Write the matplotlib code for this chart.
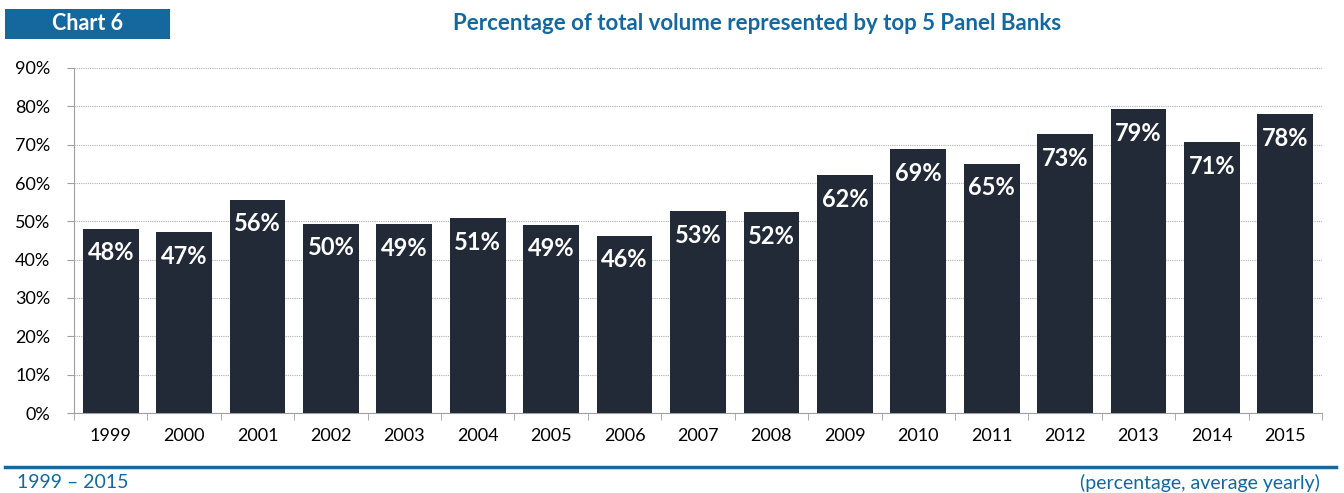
import numpy as np
import matplotlib as mpl
mpl.use('Agg')
import matplotlib.pyplot as plt
from matplotlib.patches import Rectangle
from matplotlib.lines import Line2D

plt.rcParams['font.family'] = ['Lato', 'DejaVu Sans']

years = ['1999', '2000', '2001', '2002', '2003', '2004', '2005', '2006', '2007',
         '2008', '2009', '2010', '2011', '2012', '2013', '2014', '2015']
share = [48.0, 47.1, 55.6, 49.4, 49.2, 50.8, 49.1, 46.3, 52.6,
         52.4, 62.0, 68.8, 65.0, 72.7, 79.2, 70.6, 78.0]
labels = ['48%', '47%', '56%', '50%', '49%', '51%', '49%', '46%', '53%',
          '52%', '62%', '69%', '65%', '73%', '79%', '71%', '78%']

blue = '#14689d'
bar_col = '#232a37'

fig = plt.figure(figsize=(13.44, 4.93), dpi=100)
W, H = 1344, 493
ax = fig.add_axes([74 / W, 1 - 413 / H, (1322 - 74) / W, (413 - 68) / H])

x = np.arange(len(years))
ax.bar(x, share, width=0.76, color=bar_col, zorder=3)
for xi, v, lab in zip(x, share, labels):
    ax.annotate(lab, (xi, v), xytext=(0, -24), textcoords='offset pixels',
                ha='center', va='center', color='white', fontsize=17, fontweight='bold', zorder=4)

ax.set_xlim(-0.5, len(years) - 0.5)
ax.set_ylim(0, 90)
ax.set_yticks(np.arange(0, 91, 10))
ax.set_yticklabels([f'{v}%' for v in range(0, 91, 10)], fontsize=13)
ax.set_xticks(x)
ax.set_xticklabels(years, fontsize=13)
ax.set_xticks(np.arange(-0.5, len(years), 1), minor=True)
ax.tick_params(axis='x', which='major', length=0, pad=11)
ax.tick_params(axis='x', which='minor', length=5, color='#a0a0a0', direction='out')
ax.tick_params(axis='y', length=5, color='#a0a0a0', pad=12)
ax.grid(axis='y', linestyle=(0, (1, 1)), color='#b0b0b0', linewidth=0.8, zorder=0)
for s in ['top', 'right']:
    ax.spines[s].set_visible(False)
ax.spines['left'].set_color('#a0a0a0')
ax.spines['bottom'].set_color('#a0a0a0')

# header
fig.patches.append(Rectangle((5 / W, 1 - 39 / H), 165 / W, 30 / H, transform=fig.transFigure,
                             facecolor=blue, edgecolor='none'))
fig.text(88 / W, 1 - 24 / H, 'Chart 6', color='white', fontsize=15.5, fontweight='bold',
         ha='center', va='center')
fig.text(757 / W, 1 - 24 / H, 'Percentage of total volume represented by top 5 Panel Banks',
         color=blue, fontsize=16, fontweight='bold', ha='center', va='center')

# footer
fig.lines.append(Line2D([5 / W, 1336 / W], [1 - 467 / H, 1 - 467 / H], transform=fig.transFigure,
                        color=blue, linewidth=2.5))
fig.text(17 / W, 1 - 483 / H, '1999 \u2013 2015', color=blue, fontsize=14, ha='left', va='center')
fig.text(1320 / W, 1 - 483 / H, '(percentage, average yearly)', color=blue, fontsize=14,
         ha='right', va='center')

fig.savefig('out.png', dpi=100)
